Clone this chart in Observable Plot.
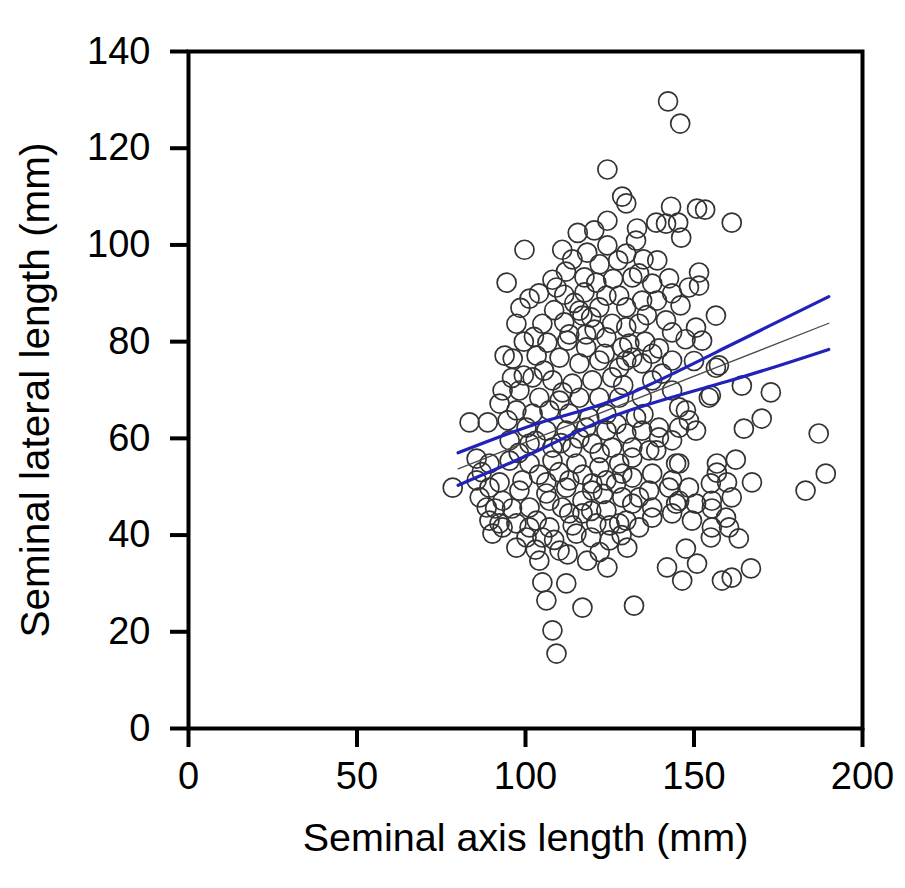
<!DOCTYPE html>
<html>
<head>
<meta charset="utf-8">
<script src="https://cdn.jsdelivr.net/npm/d3@7"></script>
<script src="https://cdn.jsdelivr.net/npm/@observablehq/plot@0.6"></script>
<style>
  html, body { margin: 0; padding: 0; background: #fff; }
  #chart { width: 905px; height: 888px; }
</style>
</head>
<body>
<div id="chart"></div>
<script>
// Scatter points: [seminal axis length (mm), seminal lateral length (mm)]
const points = [
  [142.3,129.7],[145.9,125.1],[124.3,115.6],[128.7,110.0],[129.9,108.6],[143.2,107.9],[150.9,107.5],[153.3,107.3],
  [161.2,104.6],[138.8,104.6],[141.7,104.4],[145.3,104.6],[146.2,101.5],[133.1,103.4],[132.8,100.9],[124.3,105.0],
  [120.4,103.0],[99.7,99.0],[110.9,99.0],[113.9,97.0],[118.3,98.4],[124.3,99.9],[139.1,96.8],[129.9,98.2],
  [127.5,96.8],[94.4,92.2],[101.2,88.9],[97.3,83.7],[108.0,92.8],[111.5,89.7],[117.5,93.3],[117.5,90.2],
  [121.0,92.2],[121.9,87.1],[127.8,89.5],[131.7,93.3],[134.6,88.5],[137.6,92.0],[142.6,93.1],[143.5,90.0],
  [151.5,94.3],[151.5,91.6],[148.5,91.2],[133.7,94.1],[105.0,83.7],[111.5,84.0],[116.9,85.4],[125.7,83.7],
  [129.9,87.1],[133.7,83.7],[141.7,84.4],[143.5,81.9],[150.6,82.9],[156.5,85.4],[152.4,80.2],[129.9,83.0],
  [139.6,78.6],[130.8,79.6],[134.6,75.5],[129.9,76.1],[140.5,73.4],[157.4,75.1],[164.2,70.9],[172.8,69.5],
  [155.0,68.9],[170.1,64.1],[164.8,62.0],[187.0,61.0],[189.1,52.7],[183.1,49.2],[162.4,55.6],[156.8,54.8],
  [156.8,52.9],[159.8,50.9],[167.2,50.9],[155.0,50.7],[147.6,65.8],[145.6,62.2],[150.6,61.6],[139.6,60.2],
  [134.6,61.6],[132.8,64.3],[136.7,57.5],[144.7,54.8],[131.7,56.0],[128.7,52.7],[136.7,49.2],[142.6,49.8],
  [148.5,49.8],[150.6,46.5],[144.7,46.5],[155.3,45.5],[137.6,45.7],[131.7,46.5],[160.4,41.6],[163.3,39.3],
  [166.9,33.1],[161.2,31.2],[158.3,30.6],
  [137.6,77.5],[143.5,76.1],[156.5,74.6],[154.4,68.4],[137.6,72.0],[143.5,69.9],[148.5,63.7],[145.6,66.4],
  [139.6,62.2],[143.5,59.6],[138.8,57.5],[145.6,54.8],[137.6,52.7],[143.5,51.3],[155.3,47.1],[161.2,47.8],
  [145.6,47.1],[133.7,47.8],[143.5,44.5],[149.4,43.0],[155.3,41.6],[159.5,43.6],[137.6,43.6],[133.7,41.6],
  [155.0,39.5],[147.6,37.2],[150.9,34.1],[142.0,33.3],[146.5,30.6],[132.2,25.4],[116.9,25.0],[108.0,20.3],
  [109.2,15.5],[106.2,26.5],[112.1,30.0],[105.0,30.2],[104.1,34.7],[110.1,36.8],[118.3,34.7],[124.3,33.3],
  [130.2,37.4],[124.9,38.9],[119.5,39.5],[115.1,40.3],[93.2,41.6],[90.2,40.3],[97.3,37.4],[100.3,39.5],
  [105.0,39.5],
  [78.4,49.8],[88.5,45.7],[92.3,42.4],[98.2,49.2],[93.2,47.1],[101.2,45.7],[106.2,48.6],[110.9,45.7],
  [116.9,44.5],[124.0,45.1],[127.8,42.4],[128.7,47.8],[119.8,49.2],[112.1,49.8],[103.3,43.0],[97.3,42.4],
  [85.5,55.8],[89.3,49.8],[86.4,47.8],[89.3,43.0],[107.1,47.1],[101.2,41.6],[107.1,41.6],[113.0,44.5],
  [116.9,47.1],[121.0,42.4],[129.9,43.0],[124.0,51.3],[131.7,51.9],[93.8,77.1],
  [116.0,86.4],[106.5,79.8],[112.4,80.2],[118.0,78.8],[124.0,80.9],[128.7,78.8],[96.2,76.5],[103.3,77.1],
  [110.1,76.7],[116.0,75.5],[121.9,76.1],[127.8,74.6],[131.7,76.7],[102.1,72.6],[108.0,72.0],[113.9,71.3],
  [119.8,72.0],[125.7,72.6],[93.2,69.9],[98.2,69.9],[104.1,68.4],[110.1,67.8],[116.0,68.4],[121.9,68.4],
  [127.8,68.4],[92.3,67.2],[97.3,65.8],[102.1,65.1],[107.1,65.8],[113.0,65.1],[118.9,64.3],[83.4,63.3],
  [88.8,63.3],[94.7,63.7],[100.3,62.2],[106.2,61.6],[112.1,61.6],[118.0,62.2],[124.0,61.6],[129.9,61.0],
  [95.3,59.6],[101.2,58.9],[108.0,58.1],[113.9,58.1],[119.8,58.9],[125.7,58.1],[131.7,58.1],[89.3,54.8],
  [95.3,55.4],[101.2,54.8],[108.0,55.4],[115.1,54.8],[121.9,54.0],[127.8,54.8],[85.5,51.3],[92.3,50.9],
  [99.1,51.3],[106.2,50.9],[113.0,51.3],[119.8,50.7],[126.9,50.7],
  [109.2,91.2],[114.5,88.0],[119.5,85.0],[124.0,89.5],[108.5,86.5],[113.0,81.5],[120.5,82.5],[102.5,81.0],
  [99.5,80.0],
  [115.5,102.5],[112.0,94.5],[104.0,90.0],[98.5,87.0],[122.0,96.0],[126.0,93.0],[135.0,97.0],[136.0,85.5],
  [139.0,88.5],[146.0,87.5],[147.5,80.5],[150.0,76.0],[135.5,80.0],[123.5,77.5],[118.0,81.5],[105.5,74.0],
  [99.5,73.0],[96.0,72.5],[111.0,69.5],[124.0,65.0],[129.0,71.0],[134.5,68.5],[135.0,65.0],[127.0,63.0],
  [103.0,59.5],[110.5,59.0],[116.0,60.0],[122.0,57.0],[98.0,57.0],[104.0,52.5],[110.0,53.0],[117.0,52.5],
  [123.0,48.5],[96.0,45.5],[114.0,42.0],[119.5,45.0],[125.0,42.0],[103.0,37.0],[108.5,39.0],[112.5,36.0],
  [122.0,36.5],[128.5,40.0],[91.0,45.5],[87.0,53.0]
];

// Regression line (thin) and confidence band (blue)
const fitX = [80, 190];
const fitY = [53.7, 83.8];
const bandX = [80, 105, 128, 160, 190];
const bandUpper = [57.0, 63.4, 68.4, 79.0, 89.3];
const bandLower = [50.3, 57.9, 65.1, 71.8, 78.4];

const xTicks = [0, 50, 100, 150, 200];
const yTicks = [0, 20, 40, 60, 80, 100, 120, 140];
const xLabel = "Seminal axis length (mm)";
const yLabel = "Seminal lateral length (mm)";

const scatter = points.map(([x, y]) => ({x, y}));
const fit = fitX.map((x, i) => ({x, y: fitY[i]}));
const upper = bandX.map((x, i) => ({x, y: bandUpper[i]}));
const lower = bandX.map((x, i) => ({x, y: bandLower[i]}));

const font = "'Liberation Sans', Arial, Helvetica, sans-serif";

const chart = Plot.plot({
  width: 905,
  height: 888,
  marginLeft: 188,
  marginRight: 43,
  marginTop: 51,
  marginBottom: 160,
  style: {fontFamily: font, fontSize: "38px", background: "#fff", color: "#000"},
  x: {domain: [0, 200]},
  y: {domain: [0, 140]},
  marks: [
    Plot.dot(scatter, {x: "x", y: "y", r: 9.5, stroke: "#333", strokeWidth: 1.7, fill: "none"}),
    Plot.line(fit, {x: "x", y: "y", stroke: "#4a4a4a", strokeWidth: 1.3}),
    Plot.line(upper, {x: "x", y: "y", stroke: "#2222bb", strokeWidth: 3.2, curve: "natural"}),
    Plot.line(lower, {x: "x", y: "y", stroke: "#2222bb", strokeWidth: 3.2, curve: "natural"}),
    Plot.axisX({ticks: xTicks, tickSize: 19, tickPadding: 15, strokeWidth: 4, fontSize: 38, label: null, tickFormat: d => String(d)}),
    Plot.axisY({ticks: yTicks, tickSize: 18, tickPadding: 20, strokeWidth: 4, fontSize: 38, label: null, tickFormat: d => String(d)}),
    Plot.frame({stroke: "#000", strokeWidth: 4}),
    Plot.text([xLabel], {text: d => d, frameAnchor: "bottom", dy: 122, fontSize: 39.5, fill: "#000"}),
    Plot.text([yLabel], {text: d => d, frameAnchor: "left", dx: -152, rotate: -90, textAnchor: "middle", fontSize: 40.5, fill: "#000"})
  ]
});
document.getElementById("chart").appendChild(chart);
</script>
</body>
</html>
